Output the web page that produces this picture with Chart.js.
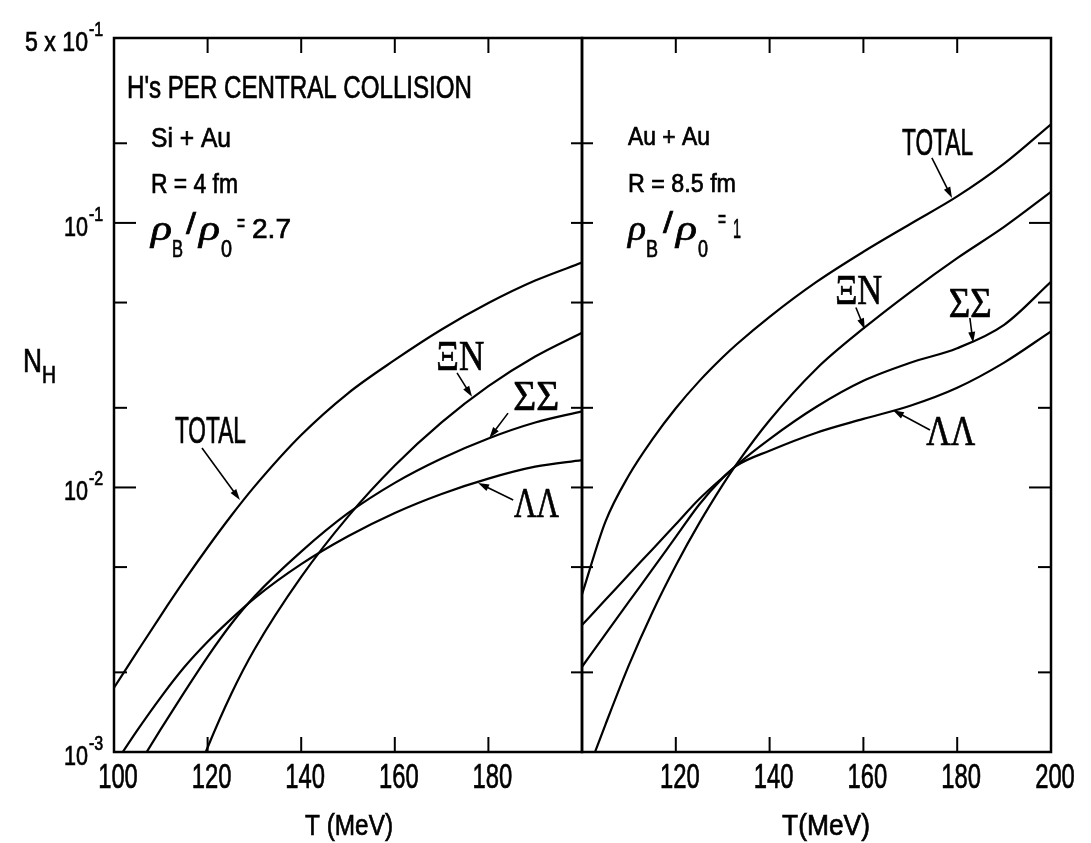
<!DOCTYPE html>
<html>
<head>
<meta charset="utf-8">
<script src="https://cdn.jsdelivr.net/npm/chart.js@4.4.1/dist/chart.umd.min.js"></script>
<style>
  html, body { margin: 0; background: #fff; }
  #wrap { position: relative; width: 1091px; height: 843px; overflow: hidden; }
  canvas { position: absolute; top: 0; }
</style>
</head>
<body>
<div id="wrap">
  <canvas id="leftPanel" width="600" height="843" style="left:0"></canvas>
  <canvas id="rightPanel" width="531" height="843" style="left:560px"></canvas>
</div>
<script>
// ---- data (N_H per central collision vs T in MeV) ----
const tempLeft = [100, 105, 110, 115, 120, 125, 130, 140, 150, 160, 170, 180, 190, 200]
const totalLeft = [1.75e-3, 2.40e-3, 3.28e-3, 4.44e-3, 5.93e-3, 7.80e-3, 0.01007, 0.01578, 0.0227, 0.03034, 0.03954, 0.04977, 0.06053, 0.07079]
const xiNLeft = [null, null, null, 6.12e-4, 1.04e-3, 1.65e-3, 2.44e-3, 4.59e-3, 7.76e-3, 0.0121, 0.01762, 0.02415, 0.03126, 0.03846]
const sigmaLeft = [6.3e-4, 8.77e-4, 1.22e-3, 1.68e-3, 2.29e-3, 3.04e-3, 3.87e-3, 5.72e-3, 7.99e-3, 0.01041, 0.01287, 0.01532, 0.0176, 0.01939]
const lambdaLeft = [8.91e-4, 1.21e-3, 1.61e-3, 2.09e-3, 2.61e-3, 3.18e-3, 3.81e-3, 5.13e-3, 6.54e-3, 8.01e-3, 9.45e-3, 0.0108, 0.01198, 0.01269]

const tempRight = [100, 105, 110, 115, 120, 125, 130, 133, 140, 150, 160, 170, 180, 190, 200]
const totalRight = [3.94e-3, 7.43e-3, 0.01112, 0.0152, 0.01993, 0.02523, 0.03105, 0.03478, 0.04416, 0.05984, 0.0778, 0.0991, 0.1259, 0.1675, 0.236]
const xiNRight = [7.41e-4, 1.27e-3, 2.13e-3, 3.37e-3, 5.07e-3, 7.33e-3, 0.01023, 0.01229, 0.01795, 0.02812, 0.0399, 0.0548, 0.0736, 0.0966, 0.131]
const sigmaRight = [2.1e-3, 2.79e-3, 3.7e-3, 4.9e-3, 6.5e-3, 8.62e-3, 0.01085, 0.01216, 0.01524, 0.02018, 0.0253, 0.0296, 0.0336, 0.0412, 0.0599]
const lambdaRight = [3.02e-3, 3.76e-3, 4.69e-3, 5.83e-3, 7.26e-3, 9.04e-3, 0.0109, 0.0121, 0.01377, 0.01611, 0.01816, 0.02037, 0.02382, 0.02965, 0.0389]

// ticks
const xTickMarks = [120, 140, 160, 180]
const xLabelsLeft = [100, 120, 140, 160, 180]
const xLabelsRight = [120, 140, 160, 180, 200]
const yTickMarks = [0.002, 0.005, 0.01, 0.02, 0.05, 0.1, 0.2]
const yMajor = [0.01, 0.1]
const yLabelValues = [0.5, 0.1, 0.01, 0.001]
const yLabelMantissa = ['5 x 10', '10', '10', '10']
const yLabelExponent = ['-1', '-1', '-2', '-3']

const ink = '#000'
const SANS = '"Liberation Sans", Arial, sans-serif'
const SERIF = '"Liberation Serif", "DejaVu Serif", serif'

// draw a (horizontally squeezed) piece of text; w = target width
function put(ctx, s, x, y, size, w, opt = {}) {
  ctx.save()
  ctx.font = (opt.style || '') + ' ' + size + 'px ' + (opt.face || SANS)
  const m = ctx.measureText(s).width
  const sx = w ? w / m : (opt.sx || 0.72)
  ctx.translate(x, y)
  ctx.scale(sx, 1)
  ctx.textAlign = opt.align || 'left'
  ctx.textBaseline = 'alphabetic'
  ctx.lineWidth = 0.7
  ctx.fillText(s, 0, 0)
  ctx.strokeText(s, 0, 0)
  ctx.restore()
}

function arrow(ctx, x0, y0, x1, y1) {
  const a = Math.atan2(y1 - y0, x1 - x0)
  const L = 11, W = 3.5
  ctx.lineWidth = 1.6
  ctx.beginPath()
  ctx.moveTo(x0, y0)
  ctx.lineTo(x1 - L * 0.7 * Math.cos(a), y1 - L * 0.7 * Math.sin(a))
  ctx.stroke()
  ctx.beginPath()
  ctx.moveTo(x1, y1)
  ctx.lineTo(x1 - L * Math.cos(a) + W * Math.sin(a), y1 - L * Math.sin(a) - W * Math.cos(a))
  ctx.lineTo(x1 - L * Math.cos(a) - W * Math.sin(a), y1 - L * Math.sin(a) + W * Math.cos(a))
  ctx.closePath()
  ctx.fill()
}

const decorPlugin = {
  id: 'decor',
  afterDatasetsDraw(chart, args, o) {
    const ctx = chart.ctx
    const xs = chart.scales.x, ys = chart.scales.y
    const a = chart.chartArea
    const off = o.offset || 0
    const seg = (x0, y0, x1, y1) => {
      ctx.beginPath(); ctx.moveTo(x0, y0); ctx.lineTo(x1, y1); ctx.stroke()
    }
    ctx.save()
    ctx.strokeStyle = ink
    ctx.fillStyle = ink

    // frame
    ctx.lineWidth = 2.5
    ctx.strokeRect(a.left, a.top, a.right - a.left, a.bottom - a.top)

    // tick marks
    ctx.lineWidth = 2
    xTickMarks.forEach(v => {
      const p = xs.getPixelForValue(v)
      seg(p, a.top, p, a.top + 15)
      seg(p, a.bottom, p, a.bottom - 15)
    })
    yTickMarks.forEach(v => {
      const p = ys.getPixelForValue(v)
      const len = yMajor.includes(v) ? 22 : 13
      if (o.side === 'left') {
        seg(a.left, p, a.left + len, p)
        seg(a.right - 11, p, a.right + 11, p)
      } else {
        seg(a.right - len, p, a.right, p)
      }
    })

    // x tick labels
    o.xLabels.forEach(v => {
      put(ctx, String(v), xs.getPixelForValue(v) + 4, 788, 35, null, { align: 'center', sx: 0.68 })
    })

    // y tick labels (left panel only)
    if (o.side === 'left') {
      yLabelValues.forEach((v, i) => {
        const p = ys.getPixelForValue(v)
        const w = i === 0 ? 63 : 24
        put(ctx, yLabelMantissa[i], a.left - 26, p + 13, 28, w, { align: 'right' })
        put(ctx, yLabelExponent[i], a.left - 25, p - 2, 20, null, { sx: 0.8 })
      })
    }

    // free text
    o.notes.forEach(n => {
      put(ctx, n.t, n.x - off, n.y, n.size, n.w, { align: n.align, face: n.face, style: n.style })
    })

    // curve labels and arrows, anchored in data units
    o.curveLabels.forEach(c => {
      put(ctx, c.t, xs.getPixelForValue(c.T), ys.getPixelForValue(c.N), c.size, c.w,
        { align: 'center', face: c.serif ? SERIF : SANS })
    })
    o.arrows.forEach(r => {
      arrow(ctx, xs.getPixelForValue(r[0]), ys.getPixelForValue(r[1]),
        xs.getPixelForValue(r[2]), ys.getPixelForValue(r[3]))
    })
    ctx.restore()
  }
}

function makePanel(id, temps, series, pad, decor) {
  return new Chart(document.getElementById(id), {
    type: 'line',
    data: {
      datasets: series.map(s => ({
        data: temps.map((t, i) => ({ x: t, y: s[i] })),
        borderColor: ink,
        borderWidth: 2.2,
        pointRadius: 0,
        fill: false,
        cubicInterpolationMode: 'monotone'
      }))
    },
    options: {
      responsive: false,
      animation: false,
      devicePixelRatio: 1,
      layout: { padding: pad },
      scales: {
        x: { type: 'linear', min: 100, max: 200, display: false },
        y: { type: 'logarithmic', min: 0.001, max: 0.5, display: false }
      },
      plugins: {
        legend: { display: false },
        tooltip: { enabled: false },
        decor: decor
      }
    },
    plugins: [decorPlugin]
  })
}

const rhoItalic = { face: SERIF, style: 'italic' }

makePanel('leftPanel', tempLeft, [totalLeft, xiNLeft, sigmaLeft, lambdaLeft],
  { left: 114, right: 18, top: 38, bottom: 91 },
  {
    side: 'left',
    xLabels: xLabelsLeft,
    notes: [
      { t: "H's PER CENTRAL COLLISION", x: 127, y: 98, size: 32, w: 345 },
      { t: 'Si + Au', x: 151, y: 147, size: 28, w: 80 },
      { t: 'R = 4 fm', x: 151, y: 193, size: 28, w: 87 },
      { t: 'ρ', x: 151, y: 240, size: 36, w: 21, ...rhoItalic },
      { t: 'B', x: 172, y: 257, size: 24, w: 11 },
      { t: '/', x: 186, y: 234, size: 30, w: 10 },
      { t: 'ρ', x: 199, y: 240, size: 36, w: 21, ...rhoItalic },
      { t: '0', x: 221, y: 257, size: 24, w: 11 },
      { t: '=', x: 237, y: 231, size: 26, w: 8 },
      { t: '2.7', x: 252, y: 238, size: 28, w: 39 },
      { t: 'N', x: 23, y: 372, size: 34, w: 19 },
      { t: 'H', x: 42, y: 383, size: 24, w: 14 },
      { t: 'T (MeV)', x: 349, y: 835, size: 30, w: 88, align: 'center' }
    ],
    curveLabels: [
      { t: 'TOTAL', T: 120.6, N: 0.01472, size: 36, w: 71 },
      { t: 'ΞN', T: 174.0, N: 0.0278, size: 42, w: 48, serif: true },
      { t: 'ΣΣ', T: 190.2, N: 0.01963, size: 42, w: 46, serif: true },
      { t: 'ΛΛ', T: 190.3, N: 7.74e-3, size: 42, w: 45, serif: true }
    ],
    arrows: [
      [118.8, 0.0141, 126.9, 8.97e-3],
      [173.3, 0.0271, 176.5, 0.0220],
      [184.2, 0.0191, 180.2, 0.01538],
      [185.3, 8.97e-3, 177.8, 0.0104]
    ]
  })

makePanel('rightPanel', tempRight, [totalRight, xiNRight, sigmaRight, lambdaRight],
  { left: 22, right: 40, top: 38, bottom: 91 },
  {
    side: 'right',
    offset: 560,
    xLabels: xLabelsRight,
    notes: [
      { t: 'Au + Au', x: 628, y: 145, size: 26, w: 82 },
      { t: 'R = 8.5 fm', x: 628, y: 192, size: 26, w: 108 },
      { t: 'ρ', x: 628, y: 240, size: 36, w: 18, ...rhoItalic },
      { t: 'B', x: 646, y: 257, size: 24, w: 12 },
      { t: '/', x: 663, y: 233, size: 30, w: 10 },
      { t: 'ρ', x: 676, y: 240, size: 36, w: 21, ...rhoItalic },
      { t: '0', x: 698, y: 257, size: 24, w: 10 },
      { t: '=', x: 718, y: 227, size: 26, w: 8 },
      { t: '1', x: 733, y: 238, size: 28, w: 8 },
      { t: 'T(MeV)', x: 826, y: 835, size: 30, w: 88, align: 'center' }
    ],
    curveLabels: [
      { t: 'TOTAL', T: 175.8, N: 0.1807, size: 36, w: 71 },
      { t: 'ΞN', T: 159.0, N: 0.0494, size: 42, w: 47, serif: true },
      { t: 'ΣΣ', T: 182.8, N: 0.0441, size: 42, w: 43, serif: true },
      { t: 'ΛΛ', T: 178.6, N: 0.01448, size: 42, w: 49, serif: true }
    ],
    arrows: [
      [174.6, 0.176, 178.9, 0.1243],
      [158.4, 0.0479, 160.3, 0.0396],
      [182.7, 0.0437, 183.4, 0.0352],
      [174.2, 0.0165, 166.3, 0.0196]
    ]
  })
</script>
</body>
</html>
